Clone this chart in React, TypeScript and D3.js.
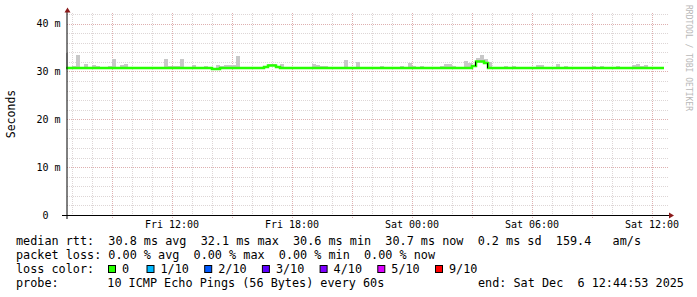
import React from "react";
import * as d3 from "d3";

// ---- time frame ----
const START = new Date(2025, 11, 5, 6, 44, 53);
const END = new Date(2025, 11, 6, 12, 44, 53);
const STEP_SEC = 720;
const FIRST_OFFSET_SEC = -540;

// ---- series: median rtt per consolidated step (ms) ----
const medianMs: number[] = [
  30.69, 30.69, 30.69, 30.69, 30.69, 30.69, 30.69, 30.69, 30.69, 30.69,
  30.69, 30.69, 30.69, 30.69, 30.69, 30.69, 30.69, 30.69, 30.69, 30.69,
  30.69, 30.69, 30.69, 30.69, 30.69, 30.69, 30.69, 30.69, 30.69, 30.69,
  30.69, 30.69, 30.69, 30.69, 30.69, 30.69, 30.69, 30.48, 30.48, 30.69,
  30.69, 30.69, 30.69, 30.69, 30.69, 30.69, 30.69, 30.69, 30.69, 30.69,
  30.9, 31.21, 31.21, 30.9, 30.69, 30.69, 30.69, 30.69, 30.69, 30.69,
  30.69, 30.69, 30.69, 30.69, 30.69, 30.69, 30.69, 30.69, 30.69, 30.69,
  30.69, 30.69, 30.69, 30.69, 30.69, 30.69, 30.69, 30.69, 30.69, 30.69,
  30.69, 30.69, 30.69, 30.69, 30.69, 30.69, 30.69, 30.69, 30.69, 30.69,
  30.69, 30.69, 30.69, 30.69, 30.69, 30.69, 30.69, 30.69, 30.69, 30.69,
  30.69, 30.69, 31.11, 32.05, 32.05, 31.73, 30.69, 30.69, 30.69, 30.69,
  30.69, 30.69, 30.69, 30.69, 30.69, 30.69, 30.69, 30.69, 30.69, 30.69,
  30.69, 30.69, 30.69, 30.69, 30.69, 30.69, 30.69, 30.69, 30.69, 30.69,
  30.69, 30.69, 30.69, 30.69, 30.69, 30.69, 30.69, 30.69, 30.69, 30.69,
  30.69, 30.69, 30.69, 30.69, 30.69, 30.69, 30.69, 30.69, 30.69, 30.69,
];

// ---- series: top of the smoke (max ping) per step (ms), null = hidden ----
const smokeTopMs: (number | null)[] = [
  33.88, null, 31.15, 33.4, null, 31.52, null, 31.32, 31.11, null,
  null, 31.11, 32.57, null, 31.32, 31.52, null, null, null, null,
  null, null, null, null, null, 32.57, 31.11, 31.11, 31.11, 32.57,
  null, null, 31.32, null, null, 31.11, null, null, 31.32, 31.11,
  31.32, 31.32, 31.26, 33.19, null, null, null, null, null, null,
  null, 31.52, 31.6, null, 31.52, null, null, null, null, null,
  null, null, 31.52, 31.32, 31.11, 31.11, null, null, null, null,
  32.36, null, null, 31.94, null, null, null, null, null, 31.11,
  null, null, null, null, 31.11, null, 31.73, 31.11, null, 31.11,
  null, null, null, null, 31.11, 31.52, 31.52, 31.11, null, null,
  32.15, 31.73, null, 32.78, 33.4, 32.57, 31.94, null, null, null,
  31.11, null, 31.11, null, null, null, null, null, 31.32, 31.32,
  null, null, null, 31.52, null, 31.11, null, null, null, null,
  null, null, 31.11, null, 31.11, null, null, null, 31.11, null,
  null, null, 31.32, 31.52, 31.11, 31.32, null, null, null, null,
];

// ---- axes ----
const yMajorTicks = [0, 10, 20, 30, 40];
const yMinorTicks = [2, 4, 6, 8, 12, 14, 16, 18, 22, 24, 26, 28, 32, 34, 36, 38, 42];
const xLabelTimes = [
  new Date(2025, 11, 5, 12, 0),
  new Date(2025, 11, 5, 18, 0),
  new Date(2025, 11, 6, 0, 0),
  new Date(2025, 11, 6, 6, 0),
  new Date(2025, 11, 6, 12, 0),
];

// ---- legend ----
const legendLine1 = "median rtt:  30.8 ms avg  32.1 ms max  30.6 ms min  30.7 ms now  0.2 ms sd  159.4   am/s";
const legendLine2 = "packet loss: 0.00 % avg  0.00 % max  0.00 % min  0.00 % now";
const lossTitle = "loss color:";
const lossLabels = ["0", "1/10", "2/10", "3/10", "4/10", "5/10", "9/10"];
const lossColors = ["#26ff00", "#00b8ff", "#0059ff", "#5e00ff", "#7e00ff", "#dd00ff", "#ff0000"];
const probeTitle = "probe:";
const probeText = "10 ICMP Echo Pings (56 Bytes) every 60s";
const endText = "end: Sat Dec  6 12:44:53 2025";
const yAxisTitle = "Seconds";
const watermark = "RRDTOOL / TOBI OETIKER";

const W = 697;
const H = 297;
const MONO = "'DejaVu Sans Mono', monospace";

export default function App() {
  const x = d3.scaleTime().domain([START, END]).range([67, 667]);
  const y = d3.scaleLinear().domain([0, 42.2]).range([215, 13]);

  const stepTime = (i: number) =>
    new Date(START.getTime() + (FIRST_OFFSET_SEC + STEP_SEC * i) * 1000);

  const pts: [Date, number][] = medianMs.map((m, i) => [stepTime(i), m]);
  pts.push([stepTime(medianMs.length), medianMs[medianMs.length - 1]]);
  const line = d3
    .line<[Date, number]>()
    .x((d) => x(d[0]))
    .y((d) => y(d[1]))
    .curve(d3.curveStepAfter);

  const hours = d3.timeHour.range(START, END);
  const minorX = hours.filter((h) => h.getHours() % 3 !== 0);
  const majorX = hours.filter((h) => h.getHours() % 3 === 0);
  const fmt = d3.timeFormat("%a %H:%M");

  const jumps = medianMs
    .map((m, i) => ({ i, m, prev: i > 0 ? medianMs[i - 1] : m }))
    .filter((d) => Math.abs(d.m - d.prev) >= 0.5);

  const boxX = (i: number) => (i === 0 ? 108 : 146.5 + (i - 1) * 57.7);
  const pre = { whiteSpace: "pre" as const };

  return (
    <svg
      width={W}
      height={H}
      style={{ position: "fixed", left: 0, top: 0, background: "#fff" }}
      fontFamily={MONO}
    >
      <rect x={0} y={0} width={W} height={H} fill="#fff" />
      <defs>
        <clipPath id="plot">
          <rect x={66} y={13} width={602} height={203} />
        </clipPath>
      </defs>

      {/* grid */}
      <g shapeRendering="crispEdges" strokeDasharray="1,1" strokeWidth={1}>
        {yMinorTicks.map((v) => (
          <line key={"ym" + v} x1={67} x2={668} y1={Math.round(y(v)) + 0.5} y2={Math.round(y(v)) + 0.5} stroke="#ddd6d6" />
        ))}
        {minorX.map((t) => (
          <line key={"xm" + t.getTime()} x1={Math.round(x(t)) + 0.5} x2={Math.round(x(t)) + 0.5} y1={13} y2={215} stroke="#ddd6d6" />
        ))}
        {majorX.map((t) => (
          <line key={"xM" + t.getTime()} x1={Math.round(x(t)) + 0.5} x2={Math.round(x(t)) + 0.5} y1={13} y2={218} stroke="#deb0b0" />
        ))}
        {yMajorTicks.filter((v) => v > 0).map((v) => (
          <line key={"yM" + v} x1={67} x2={668} y1={Math.round(y(v)) + 0.5} y2={Math.round(y(v)) + 0.5} stroke="#deb0b0" />
        ))}
      </g>

      {/* smoke */}
      <g clipPath="url(#plot)" shapeRendering="crispEdges">
        {smokeTopMs.map((top, i) =>
          top == null ? null : (
            <rect
              key={"s" + i}
              x={x(stepTime(i))}
              width={x(stepTime(i + 1)) - x(stepTime(i))}
              y={y(top)}
              height={y(medianMs[i]) - y(top)}
              fill="#c8c8c8"
            />
          )
        )}
      </g>

      {/* median line */}
      <g clipPath="url(#plot)">
        <path d={line(pts) || ""} fill="none" stroke="#26ff00" strokeWidth={2.5} />
        {jumps.map((d) => (
          <line
            key={"j" + d.i}
            x1={x(stepTime(d.i)) - 0.5}
            x2={x(stepTime(d.i)) - 0.5}
            y1={y(d.prev)}
            y2={y(d.m)}
            stroke="#000"
            strokeWidth={1}
          />
        ))}
      </g>

      {/* axes */}
      <line x1={62} x2={670} y1={215.5} y2={215.5} stroke="#000" strokeWidth={1} />
      <path d="M669,212.5 L669,218.5 L674,215.5 Z" fill="#8b1a1a" />
      <line x1={67} x2={67} y1={219} y2={12} stroke="#000" strokeWidth={1} />
      <path d="M64.5,12.5 L70.5,12.5 L67.5,7.5 Z" fill="#8b1a1a" />

      {/* tick labels */}
      <g fontSize={10} fill="#000">
        {yMajorTicks.map((v) => (
          <text key={"yl" + v} x={v === 0 ? 48.5 : 60.5} y={y(v) + 3.5} textAnchor="end">
            {v === 0 ? "0" : `${v} m`}
          </text>
        ))}
        {xLabelTimes.map((t) => (
          <text key={"xl" + t.getTime()} x={x(t)} y={228} textAnchor="middle">
            {fmt(t)}
          </text>
        ))}
      </g>

      <text transform="translate(14.5,114) rotate(-90)" textAnchor="middle" fontSize={11.5} fill="#000">
        {yAxisTitle}
      </text>

      <text transform="translate(686,5) rotate(90)" fontSize={8} fill="#b8b8b8">
        {watermark}
      </text>

      {/* legend */}
      <g fontSize={11.8} fill="#000">
        <text x={16} y={245} xmlSpace="preserve" style={pre}>{legendLine1}</text>
        <text x={16} y={259} xmlSpace="preserve" style={pre}>{legendLine2}</text>
        <text x={16} y={273} xmlSpace="preserve" style={pre}>{lossTitle}</text>
        {lossLabels.map((l, i) => (
          <g key={"lg" + i}>
            <rect x={boxX(i) + 0.5} y={265.5} width={7} height={7} fill={lossColors[i]} stroke="#000" strokeWidth={1} />
            <text x={boxX(i) + 14} y={273}>{l}</text>
          </g>
        ))}
        <text x={16} y={287}>{probeTitle}</text>
        <text x={107.3} y={287}>{probeText}</text>
        <text x={478} y={287} xmlSpace="preserve" style={pre}>{endText}</text>
      </g>
    </svg>
  );
}
